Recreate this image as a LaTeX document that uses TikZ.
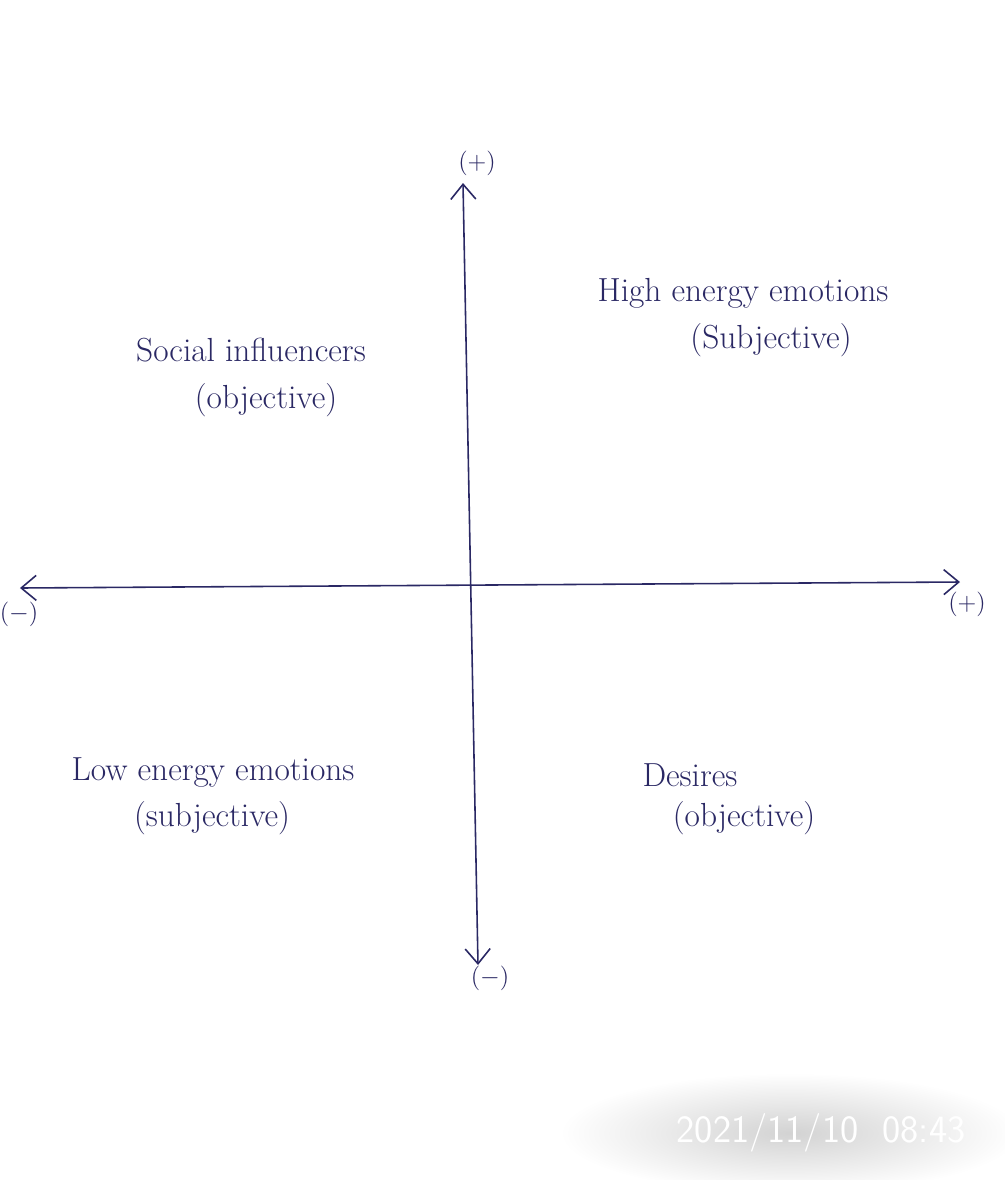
\documentclass[tikz,border=0pt]{standalone}
\usepackage{tikz}
\usetikzlibrary{positioning, arrows.meta, shadings}

\definecolor{inkblue}{RGB}{42,40,100}

\begin{document}
\begin{tikzpicture}[
  % Axis Styles
  axisline/.style={{Straight Barb[length=3mm, width=5mm]}-{Straight Barb[length=3mm, width=5mm]}, line width=0.9pt, inkblue},
  signlabel/.style={inner sep=1pt, text=inkblue, font=\fontsize{14}{16}\selectfont},
  % Quadrant Labels
  quadlabel/.style={text=inkblue, font=\fontsize{19}{28}\selectfont, inner sep=1pt},
  % Photo stamp
  stamp/.style={text=white, font=\sffamily\fontsize{22}{26}\selectfont, inner sep=1pt}
]

% Frame of the page
\useasboundingbox (0,0) rectangle (20.1,-23.6);
\fill[white] (0,0) rectangle (20.1,-23.6);

% Axis end points
\coordinate (xneg) at (0.40,-11.76);
\coordinate (xpos) at (19.20,-11.64);
\coordinate (ypos) at (9.26,-3.66);
\coordinate (yneg) at (9.56,-19.30);

\draw[axisline] (xneg) -- (xpos);
\draw[axisline] (yneg) -- (ypos);

% Signs at the axis ends
\node[signlabel] (ypossign) at (9.54,-3.26) {(+)};
\node[signlabel] (ynegsign) at (9.80,-19.56) {($-$)};
\node[signlabel] (xnegsign) at (0.38,-12.28) {($-$)};
\node[signlabel] (xpossign) at (19.34,-12.08) {(+)};

% Quadrants
\node[quadlabel] (social) at (5.02,-7.00) {Social influencers};
\node[quadlabel] (socialtag) at (5.32,-8.00) {(objective)};
\node[quadlabel] (high) at (14.86,-5.86) {High energy emotions};
\node[quadlabel] (hightag) at (15.42,-6.80) {(Subjective)};
\node[quadlabel] (low) at (4.26,-15.44) {Low energy emotions};
\node[quadlabel] (lowtag) at (4.24,-16.36) {(subjective)};
\node[quadlabel] (desires) at (13.80,-15.50) {Desires};
\node[quadlabel] (desirestag) at (14.88,-16.36) {(objective)};

% Date stamp of the photo
\shade[inner color=gray!35, outer color=white] (15.8,-22.66) ellipse (4.6cm and 1.2cm);
\node[stamp] (date) at (16.42,-22.66) {2021/11/10\ \ 08:43};

\end{tikzpicture}
\end{document}
